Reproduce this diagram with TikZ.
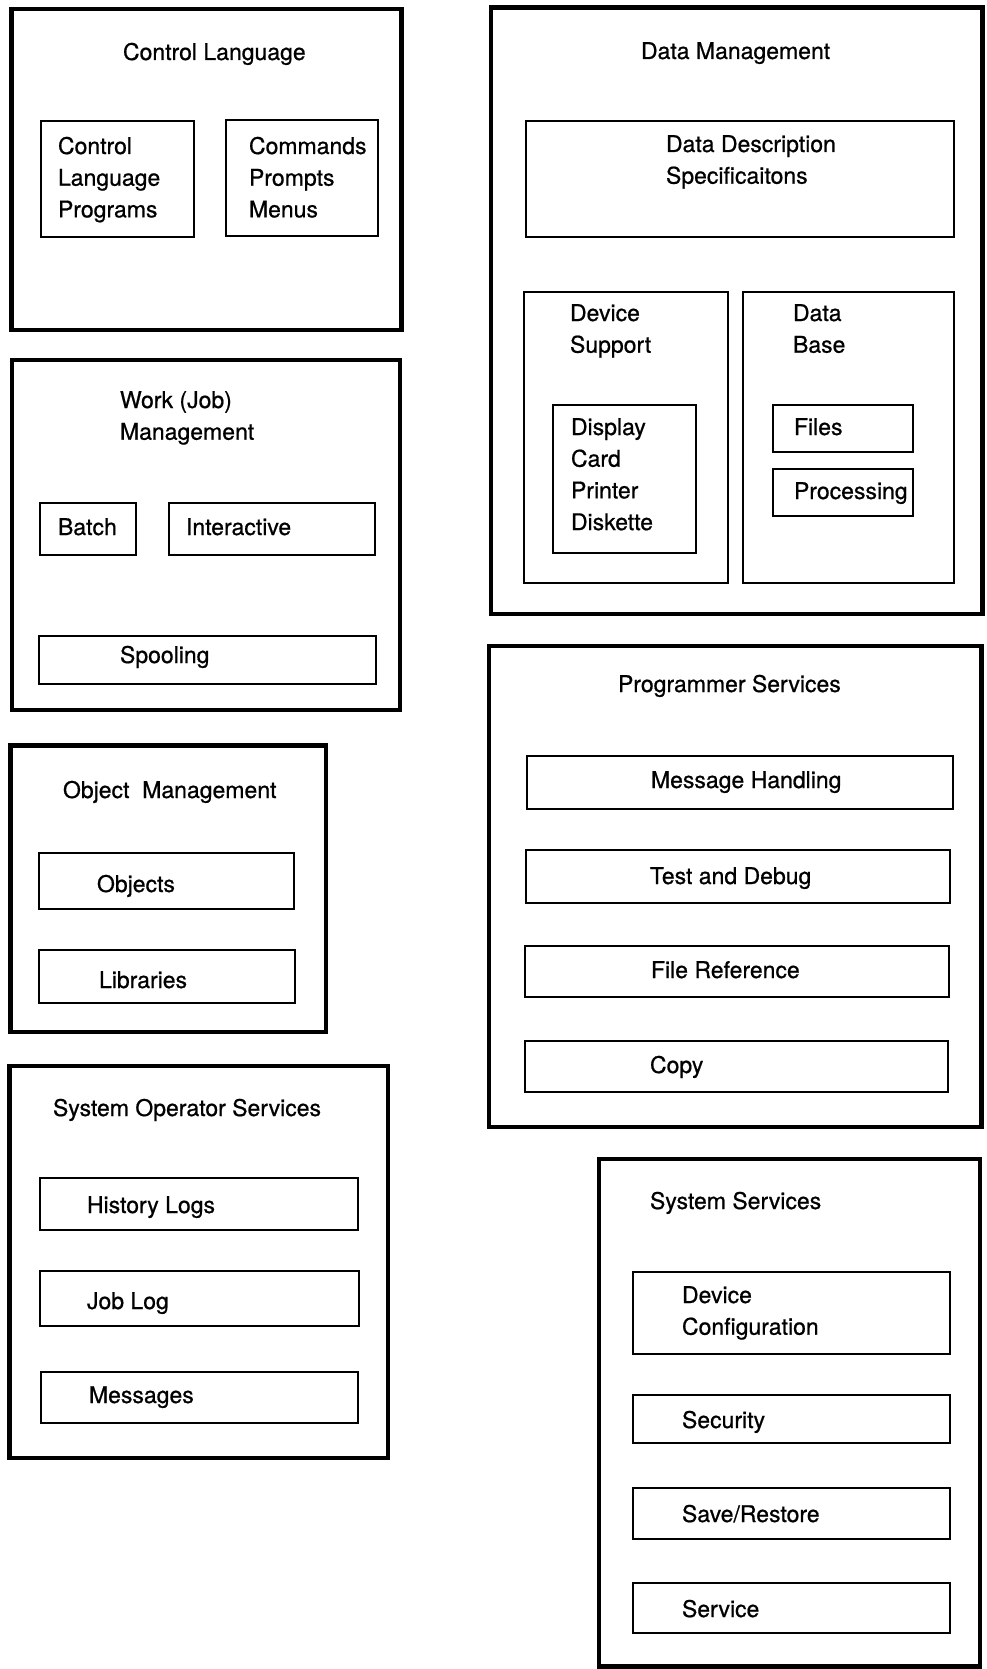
\documentclass[tikz,border=0pt]{standalone}
\usepackage{fontspec}
\setmainfont{TeX Gyre Heros}[UprightFeatures={FakeBold=0.7}]

% a stack of left-aligned lines whose baseline is that of the first line
\newcommand\txtlines[1]{\begin{tabular}[t]{@{}l@{}}#1\end{tabular}}
% a framed box given by its top-left and bottom-right corners
\newcommand\panel[6]{\node[#2,anchor=north west,
  minimum width={(#5)-(#3)},minimum height={(#6)-(#4)}] (#1) at (#3,#4) {};}

\tikzset{
  outerbox/.style={draw=black,line width=4.5pt,inner sep=0pt,outer sep=0pt},
  innerbox/.style={draw=black,line width=2.4pt,inner sep=0pt,outer sep=0pt},
  lbl/.style={anchor=base west,inner sep=0pt,outer sep=0pt},
}

\begin{document}
\begin{tikzpicture}[x=1pt,y=-1pt,font=\fontsize{23}{31.7}\selectfont]
\useasboundingbox[fill=white] (0,0) rectangle (986,1669);

% ---------------- Control Language ----------------
\panel{cl}{outerbox}{11.5}{9}{401.5}{330}
\node[lbl] (clT) at (123,60) {Control Language};
\panel{clp}{innerbox}{41}{121}{194}{237}
\node[lbl] (clpT) at (58,154) {\txtlines{Control\\Language\\Programs}};
\panel{cmd}{innerbox}{226}{120}{378}{236}
\node[lbl] (cmdT) at (249,154) {\txtlines{Commands\\Prompts\\Menus}};

% ---------------- Work (Job) Management ----------------
\panel{wm}{outerbox}{12}{360}{400}{710}
\node[lbl] (wmT) at (120,408) {\txtlines{Work (Job)\\Management}};
\panel{bat}{innerbox}{40}{503}{136}{555}
\node[lbl] (batT) at (58,535) {Batch};
\panel{inter}{innerbox}{169}{503}{375}{555}
\node[lbl] (interT) at (186,535) {Interactive};
\panel{spo}{innerbox}{39}{636}{376}{684}
\node[lbl] (spoT) at (120,663) {Spooling};

% ---------------- Object Management ----------------
\panel{om}{outerbox}{10.5}{745.5}{326}{1032}
\node[lbl] (omT) at (63,798) {Object~~Management};
\panel{obj}{innerbox}{39}{853}{294}{909}
\node[lbl] (objT) at (97,892) {Objects};
\panel{lib}{innerbox}{39}{950}{295}{1003}
\node[lbl] (libT) at (99,988) {Libraries};

% ---------------- System Operator Services ----------------
\panel{sos}{outerbox}{9.5}{1066}{388}{1458}
\node[lbl] (sosT) at (53,1116) {System Operator Services};
\panel{hl}{innerbox}{40}{1178}{358}{1230}
\node[lbl] (hlT) at (87,1213) {History Logs};
\panel{jl}{innerbox}{40}{1271}{359}{1326}
\node[lbl] (jlT) at (87,1309) {Job Log};
\panel{msg}{innerbox}{41}{1372}{358}{1423}
\node[lbl] (msgT) at (89,1403) {Messages};

% ---------------- Data Management ----------------
\panel{dm}{outerbox}{491}{7.5}{982.5}{614}
\node[lbl] (dmT) at (641,59) {Data Management};
\panel{dds}{innerbox}{526}{121}{954}{237}
\node[lbl] (ddsT) at (666,152) {\txtlines{Data Description\\Specificaitons}};
\panel{dev}{innerbox}{524}{292}{728}{583}
\node[lbl] (devT) at (570,321) {\txtlines{Device\\Support}};
\panel{disp}{innerbox}{553}{405}{696}{553}
\node[lbl] (dispT) at (571,435) {\txtlines{Display\\Card\\Printer\\Diskette}};
\panel{db}{innerbox}{743}{292}{954}{583}
\node[lbl] (dbT) at (793,321) {\txtlines{Data\\Base}};
\panel{fil}{innerbox}{773}{405}{913}{452}
\node[lbl] (filT) at (794,435) {Files};
\panel{proc}{innerbox}{773}{469}{913}{516}
\node[lbl] (procT) at (794,499) {Processing};

% ---------------- Programmer Services ----------------
\panel{ps}{outerbox}{489}{646}{981.5}{1127}
\node[lbl] (psT) at (618,692) {Programmer Services};
\panel{mh}{innerbox}{527}{756}{953}{809}
\node[lbl] (mhT) at (651,788) {Message Handling};
\panel{td}{innerbox}{526}{850}{950}{903}
\node[lbl] (tdT) at (650,884) {Test and Debug};
\panel{fr}{innerbox}{525}{946}{949}{997}
\node[lbl] (frT) at (651,978) {File Reference};
\panel{cp}{innerbox}{525}{1041}{948}{1092}
\node[lbl] (cpT) at (650,1073) {Copy};

% ---------------- System Services ----------------
\panel{ss}{outerbox}{599}{1159}{980}{1666.5}
\node[lbl] (ssT) at (650,1209) {System Services};
\panel{dc}{innerbox}{633}{1272}{950}{1354}
\node[lbl] (dcT) at (682,1303) {\txtlines{Device\\Configuration}};
\panel{sec}{innerbox}{633}{1395}{950}{1443}
\node[lbl] (secT) at (682,1428) {Security};
\panel{sr}{innerbox}{633}{1488}{950}{1539}
\node[lbl] (srT) at (682,1522) {Save/Restore};
\panel{svc}{innerbox}{633}{1583}{950}{1633}
\node[lbl] (svcT) at (682,1617) {Service};
\end{tikzpicture}
\end{document}
